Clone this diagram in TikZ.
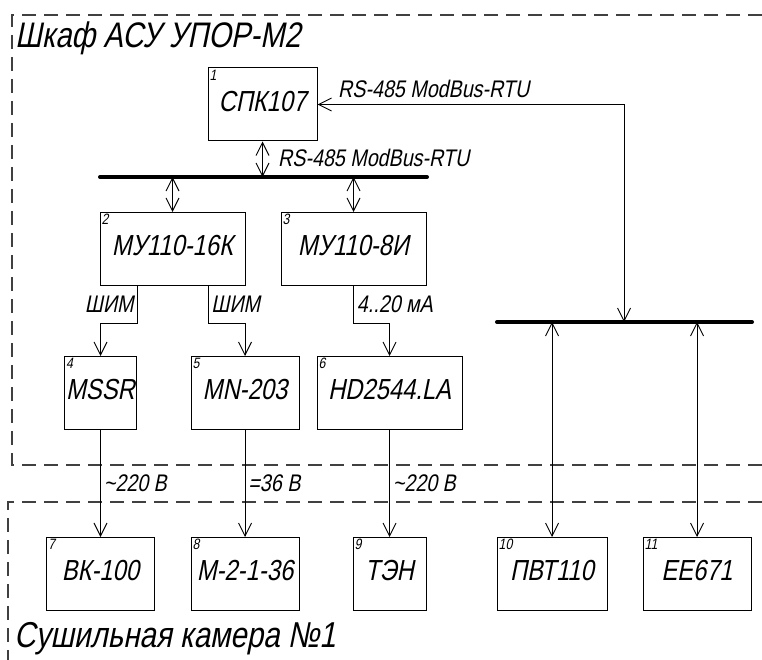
\documentclass[tikz,border=0pt]{standalone}
\usepackage{fontspec}
\setmainfont{Liberation Sans}[FakeStretch=0.82,FakeSlant=0.2]
\usetikzlibrary{arrows.meta}

\begin{document}
\begin{tikzpicture}[x=1pt, y=-1pt,
        >={Straight Barb[length=13pt,width=13pt]},
        blk/.style={draw, line width=1pt, minimum width=#1, minimum height=73pt,
            inner sep=0pt, text depth=7pt, font=\fontsize{29}{31}\selectfont},
        num/.style={label={[anchor=north west, inner sep=2pt,
            font=\fontsize{15}{15}\selectfont]north west:#1}},
        sig/.style={line width=0.9pt},
        lbl/.style={font=\fontsize{24}{26}\selectfont, inner sep=3pt},
        ttl/.style={font=\fontsize{35.5}{37}\selectfont, inner sep=0pt, anchor=base west},
        frame/.style={dash pattern=on 14pt off 8pt, line width=1.1pt, black!75},
        bus/.style={line width=4pt, line cap=round}]
        \useasboundingbox[fill=white] (0,0) rectangle (762,660);

        % Frames
        \draw[frame] (762,15) -- (12,15) -- (12,465) -- (762,465);
        \draw[frame] (762,502) -- (8,502) -- (8,660);
        \node[ttl] (cab) at (15,48) {Шкаф АСУ УПОР-М2};
        \node[ttl, font=\fontsize{36}{38}\selectfont] (cham) at (14,647) {Сушильная камера №1};

        % Blocks
        \node[blk=109pt, num=1] (spk) at (262.5,104.5) {СПК107};
        \node[blk=145pt, num=2] (mu16k) at (172.5,249) {МУ110-16К};
        \node[blk=145pt, num=3] (mu8i) at (353.5,249) {МУ110-8И};
        \node[blk=72pt, num=4] (mssr) at (100.5,393) {MSSR};
        \node[blk=108pt, num=5] (mn203) at (245,393) {MN-203};
        \node[blk=145pt, num=6] (hd) at (389.5,393) {HD2544.LA};
        \node[blk=108pt, num=7] (vk) at (100.5,574) {ВК-100};
        \node[blk=108pt, num=8] (m2136) at (245,574) {М-2-1-36};
        \node[blk=73pt, num=9] (ten) at (389.5,574) {ТЭН};
        \node[blk=110pt, num=10] (pvt) at (552,574) {ПВТ110};
        \node[blk=108pt, num=11] (ee) at (697,574) {EE671};

        % Buses
        \coordinate (busAw) at (100,177);
        \coordinate (busAe) at (427,177);
        \coordinate (busBw) at (497,322);
        \coordinate (busBe) at (752,322);
        \coordinate (tapB) at (624,322);
        \draw[bus] (busAw) -- (busAe);
        \draw[bus] (busBw) -- (busBe);

        % RS-485 links
        \draw[sig, <->] (spk.east) -| (tapB);
        \node[lbl, anchor=base west] (rsB) at (335,98) {RS-485 ModBus-RTU};
        \draw[sig, <->] (spk.south) -- (spk.south |- busAw);
        \node[lbl, anchor=base west] (rsA) at (275,167) {RS-485 ModBus-RTU};
        \draw[sig, <->] (mu16k.north |- busAw) -- (mu16k.north);
        \draw[sig, <->] (mu8i.north |- busAw) -- (mu8i.north);
        \draw[sig, <->] (pvt.north) -- (pvt.north |- tapB);
        \draw[sig, <->] (ee.north) -- (ee.north |- tapB);

        % Control outputs
        \draw[sig, ->] ([xshift=-35.5pt]mu16k.south) -- ++(0,37)
            node[lbl, midway, left] (pwmA) {ШИМ} -| (mssr.north);
        \draw[sig, ->] ([xshift=35.5pt]mu16k.south) -- ++(0,37)
            node[lbl, midway, right] (pwmB) {ШИМ} -| (mn203.north);
        \draw[sig, ->] (mu8i.south) -- ++(0,37)
            node[lbl, midway, right] (cur) {4..20 мА} -| (hd.north);

        % Power lines
        \draw[sig, ->] (mssr.south) -- (vk.north)
            node[lbl, midway, right] (acA) {\textasciitilde 220 В};
        \draw[sig, ->] (mn203.south) -- (m2136.north)
            node[lbl, midway, right] (dc) {=36 В};
        \draw[sig, ->] (hd.south) -- (ten.north)
            node[lbl, midway, right] (acB) {\textasciitilde 220 В};

\end{tikzpicture}
\end{document}
